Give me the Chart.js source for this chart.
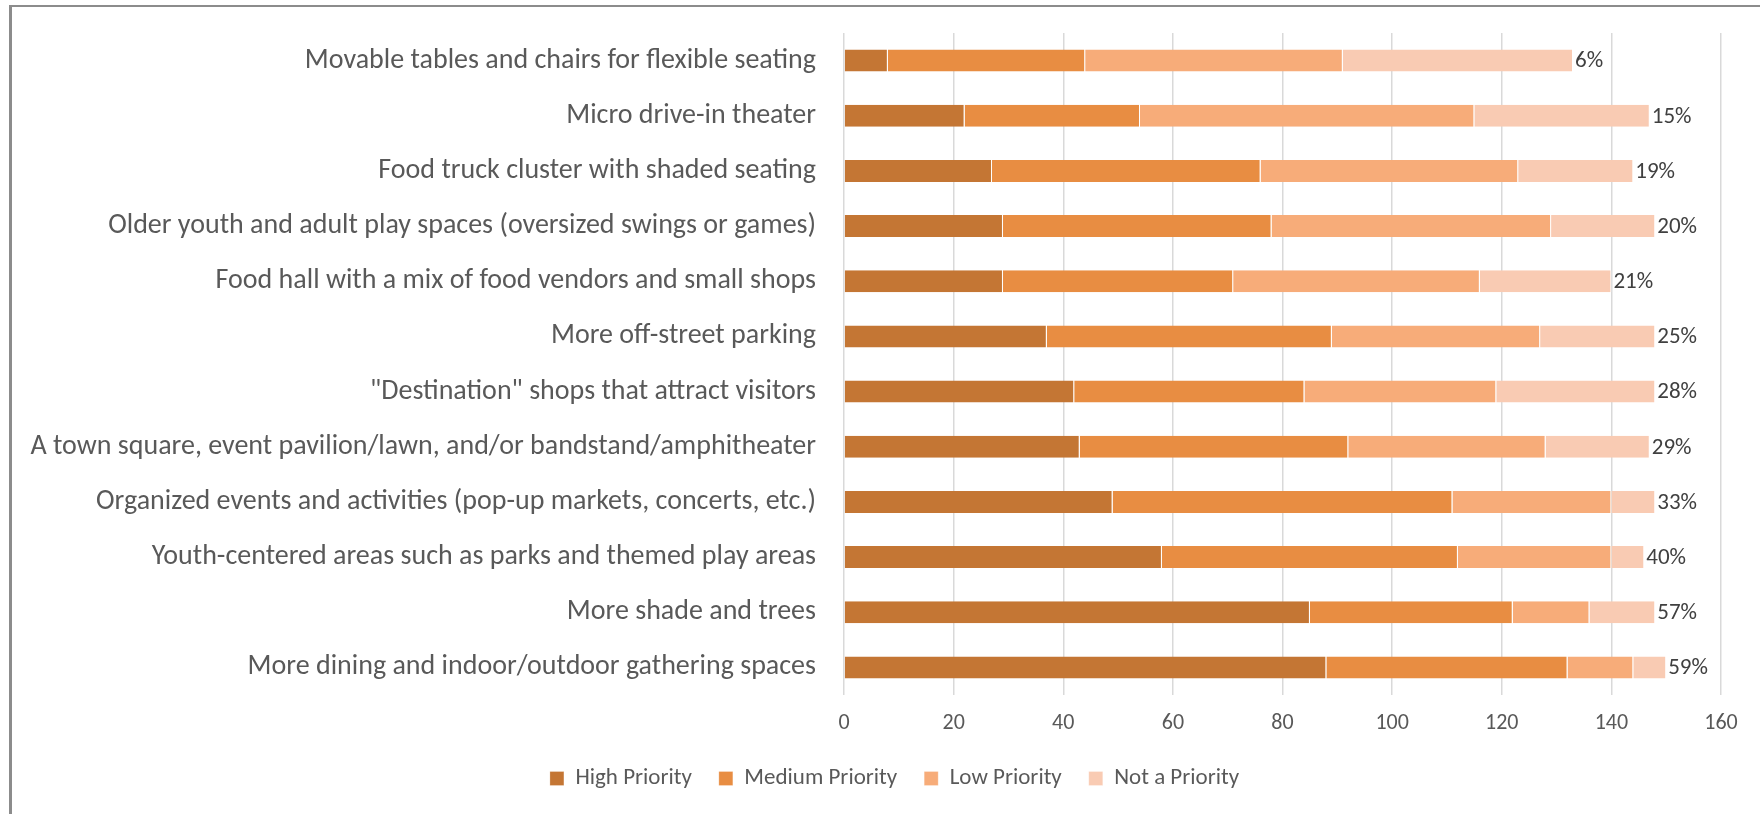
<!DOCTYPE html>
<html>
<head>
<meta charset="utf-8">
<script src="https://cdn.jsdelivr.net/npm/chart.js@4.4.1/dist/chart.umd.min.js"></script>
<style>
  html, body { margin: 0; padding: 0; background: #fff; overflow: hidden; }
  #frame {
    position: absolute; left: 9px; top: 5px; width: 1800px; height: 900px;
    border-left: 3px solid #8c8c8c; border-top: 2px solid #8c8c8c;
  }
  #wrap { position: absolute; left: 0; top: 0; width: 1760px; height: 814px; }
</style>
</head>
<body>
<div id="frame"></div>
<div id="wrap"><canvas id="priorityChart"></canvas></div>
<script>
// Priority survey: stacked horizontal bars

const categories = [
  'Movable tables and chairs for flexible seating',
  'Micro drive-in theater',
  'Food truck cluster with shaded seating',
  'Older youth and adult play spaces (oversized swings or games)',
  'Food hall with a mix of food vendors and small shops',
  'More off-street parking',
  '"Destination" shops that attract visitors',
  'A town square, event pavilion/lawn, and/or bandstand/amphitheater',
  'Organized events and activities (pop-up markets, concerts, etc.)',
  'Youth-centered areas such as parks and themed play areas',
  'More shade and trees',
  'More dining and indoor/outdoor gathering spaces'
];

const highPriority   = [8, 22, 27, 29, 29, 37, 42, 43, 49, 58, 85, 88];
const mediumPriority = [36, 32, 49, 49, 42, 52, 42, 49, 62, 54, 37, 44];
const lowPriority    = [47, 61, 47, 51, 45, 38, 35, 36, 29, 28, 14, 12];
const notPriority    = [42, 32, 21, 19, 24, 21, 29, 19, 8, 6, 12, 6];

// share of "High Priority", shown at the end of each bar
const highShare = ['6%', '15%', '19%', '20%', '21%', '25%', '28%', '29%', '33%', '40%', '57%', '59%'];

const xTicks = [0, 20, 40, 60, 80, 100, 120, 140, 160];

const FONT = 'Carlito, Lato, "Liberation Sans", sans-serif';
const TEXT = '#595959';

// draws the percent labels just past the end of each bar
const shareLabels = {
  id: 'shareLabels',
  afterDatasetsDraw(chart) {
    const ctx = chart.ctx;
    const meta = chart.getDatasetMeta(chart.data.datasets.length - 1);
    ctx.save();
    ctx.font = '23px ' + FONT;
    ctx.fillStyle = '#404040';
    ctx.textAlign = 'left';
    ctx.textBaseline = 'middle';
    meta.data.forEach((bar, i) => {
      ctx.fillText(highShare[i], bar.x + 2, bar.y + 1);
    });
    ctx.restore();
  }
};

// the original legend sits a little right of the canvas centre
const legendShift = {
  id: 'legendShift',
  afterLayout(chart) {
    const lg = chart.legend;
    if (lg) { lg.left += 34; lg.right += 34; }
  }
};

const seg = (label, data, color) => ({
  label: label,
  data: data,
  backgroundColor: color,
  borderColor: '#ffffff',
  borderWidth: { top: 0, bottom: 0, left: 0, right: 1 },
  borderSkipped: false,
  categoryPercentage: 1,
  barPercentage: 0.4
});

new Chart(document.getElementById('priorityChart'), {
  type: 'bar',
  data: {
    labels: categories,
    datasets: [
      seg('High Priority', highPriority, '#c47634'),
      seg('Medium Priority', mediumPriority, '#e88d42'),
      seg('Low Priority', lowPriority, '#f7ac79'),
      seg('Not a Priority', notPriority, '#f9cbb3')
    ]
  },
  options: {
    indexAxis: 'y',
    responsive: true,
    maintainAspectRatio: false,
    animation: false,
    layout: { padding: { top: 33, right: 39, left: 0, bottom: 14 } },
    scales: {
      x: {
        stacked: true,
        min: 0,
        max: 160,
        afterBuildTicks: (s) => { s.ticks = xTicks.map(v => ({ value: v })); },
        afterFit: (s) => { s.height = 45; },
        grid: { color: '#d9d9d9', lineWidth: 1.5, drawTicks: false },
        border: { display: false },
        ticks: { color: TEXT, font: { family: FONT, size: 22 }, padding: 15 }
      },
      y: {
        stacked: true,
        afterFit: (s) => {
          s.width = 844;
          s.paddingTop = 0;
          s.paddingBottom = 0;
        },
        grid: { display: false, drawTicks: false },
        border: { display: false },
        ticks: { color: TEXT, font: { family: FONT, size: 28 }, padding: 28 }
      }
    },
    plugins: {
      legend: {
        position: 'bottom',
        labels: {
          color: TEXT,
          font: { family: FONT, size: 23 },
          boxWidth: 14,
          boxHeight: 14,
          padding: 27
        }
      },
      tooltip: { enabled: false }
    }
  },
  plugins: [shareLabels, legendShift]
});
</script>
</body>
</html>
